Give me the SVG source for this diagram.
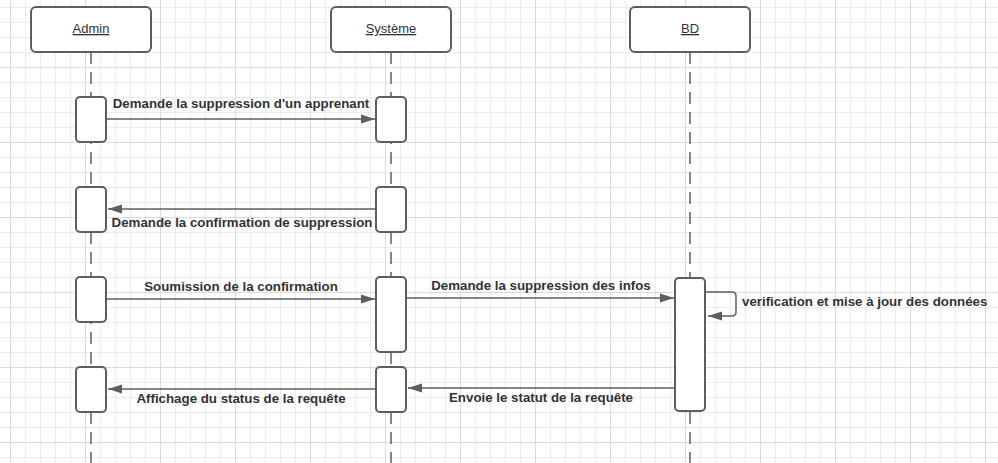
<svg xmlns="http://www.w3.org/2000/svg" width="998" height="463" viewBox="0 0 998 463">
<style>
.box{fill:#fff;stroke:#5e5e5e;stroke-width:2}
.life{stroke:#5e5e5e;stroke-width:1.5;stroke-dasharray:12 8;fill:none}
.msg{stroke:#5e5e5e;stroke-width:1.5;fill:none}
.hd{font-family:"Liberation Sans",Arial,sans-serif;font-size:13px;fill:#333;text-anchor:middle;text-decoration:underline}
.lb{font-family:"Liberation Sans",Arial,sans-serif;font-size:13.3px;font-weight:bold;fill:#333;text-anchor:middle}
</style>
<defs>
<pattern id="minor" patternUnits="userSpaceOnUse" x="10" y="7" width="15" height="15">
<path d="M0.5 0V15M0 0.5H15" stroke="#ececec" stroke-width="1" fill="none"/>
</pattern>
<pattern id="major" patternUnits="userSpaceOnUse" x="10" y="67" width="75" height="75">
<path d="M0.5 0V75M0 0.5H75" stroke="#dadada" stroke-width="1" fill="none"/>
</pattern>
<marker id="ah" markerUnits="userSpaceOnUse" markerWidth="14" markerHeight="10" refX="14" refY="5" orient="auto">
<path d="M0,0.5 L14,5 L0,9.5 z" fill="#5e5e5e"/>
</marker>
</defs>
<rect width="998" height="463" fill="#fff"/>
<rect width="998" height="463" fill="url(#minor)"/>
<rect width="998" height="463" fill="url(#major)"/>

<g id="admin">
<line class="life" x1="91" y1="52" x2="91" y2="463"/>
<rect class="box" x="31" y="7" width="120" height="45" rx="5"/>
<text class="hd" x="91" y="33">Admin</text>
</g>
<g id="systeme">
<line class="life" x1="391" y1="52" x2="391" y2="463"/>
<rect class="box" x="331" y="7" width="120" height="45" rx="5"/>
<text class="hd" x="391" y="33">Système</text>
</g>
<g id="bd">
<line class="life" x1="690" y1="52" x2="690" y2="463"/>
<rect class="box" x="630" y="7" width="120" height="45" rx="5"/>
<text class="hd" x="690" y="33">BD</text>
</g>

<g id="activations">
<rect class="box" x="76" y="97" width="30" height="45" rx="4"/>
<rect class="box" x="376" y="97" width="30" height="45" rx="4"/>
<rect class="box" x="76" y="187" width="30" height="45" rx="4"/>
<rect class="box" x="376" y="187" width="30" height="45" rx="4"/>
<rect class="box" x="76" y="277" width="30" height="45" rx="4"/>
<rect class="box" x="376" y="277" width="30" height="75" rx="4"/>
<rect class="box" x="675" y="278" width="30" height="133" rx="4"/>
<rect class="box" x="76" y="367" width="30" height="45" rx="4"/>
<rect class="box" x="376" y="367" width="30" height="45" rx="4"/>
</g>

<g id="connectors">
<line class="msg" x1="106" y1="119" x2="375" y2="119" marker-end="url(#ah)"/>
<line class="msg" x1="376" y1="209" x2="108" y2="209" marker-end="url(#ah)"/>
<line class="msg" x1="106" y1="299" x2="375" y2="299" marker-end="url(#ah)"/>
<line class="msg" x1="406" y1="298" x2="674" y2="298" marker-end="url(#ah)"/>
<path class="msg" d="M705 292H732Q736 292 736 296V312Q736 316 732 316H708" marker-end="url(#ah)"/>
<line class="msg" x1="675" y1="388" x2="408" y2="388" marker-end="url(#ah)"/>
<line class="msg" x1="376" y1="389" x2="108" y2="389" marker-end="url(#ah)"/>
</g>

<g id="labels">
<text class="lb" x="241" y="108">Demande la suppression d'un apprenant</text>
<text class="lb" x="242" y="227">Demande la confirmation de suppression</text>
<text class="lb" x="241" y="291">Soumission de la confirmation</text>
<text class="lb" x="541" y="290">Demande la suppression des infos</text>
<text class="lb" x="742" y="306" text-anchor="start" style="text-anchor:start">verification et mise à jour des données</text>
<text class="lb" x="541" y="402">Envoie le statut de la requête</text>
<text class="lb" x="241" y="403">Affichage du status de la requête</text>
</g>
</svg>
